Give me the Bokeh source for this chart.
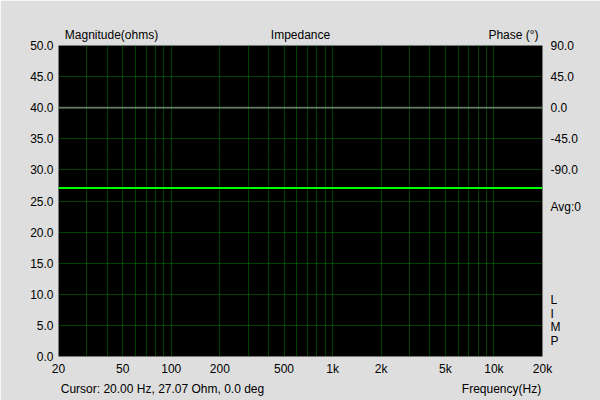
from bokeh.plotting import figure
from bokeh.models import (Range1d, LinearAxis, FixedTicker, LinearScale)
from bokeh.embed import file_html
from bokeh.resources import INLINE

# ---- data ----
freq = [20, 20000]
magnitude = [27.07, 27.07]
phase = [0.0, 0.0]
x_ticks = [20, 50, 100, 200, 500, 1000, 2000, 5000, 10000, 20000]
x_tick_labels = ["20", "50", "100", "200", "500", "1k", "2k", "5k", "10k", "20k"]
x_grid = [30, 40, 50, 60, 70, 80, 90, 100, 200, 300, 400, 500, 600, 700, 800, 900,
          1000, 2000, 3000, 4000, 5000, 6000, 7000, 8000, 9000, 10000]
y_ticks = [0, 5, 10, 15, 20, 25, 30, 35, 40, 45, 50]
phase_ticks = [90, 45, 0, -45, -90]
title_left = "Magnitude(ohms)"
title_center = "Impedance"
title_right = "Phase (°)"
avg_text = "Avg:0"
side_letters = ["L", "I", "M", "P"]
cursor_text = "Cursor: 20.00 Hz, 27.07 Ohm, 0.0 deg"
x_title = "Frequency(Hz)"

FONT = "Liberation Sans"
BG = "#dedede"

FL, FR, FT, FB = 58, 542, 45, 356  # frame edges in pixels
FW = FR - FL

p = figure(width=600, height=400, x_axis_type="log",
           x_range=Range1d(20, 20000), y_range=Range1d(0, 50),
           output_backend="svg", toolbar_location=None,
           background_fill_color="black", border_fill_color=BG,
           min_border_left=FL, min_border_right=600 - FR,
           min_border_top=FT, min_border_bottom=400 - FB)
p.outline_line_color = None

# phase scale: 90 deg at top, 0 deg on the 40 ohm line, 90 deg per 10 ohm
p.extra_y_ranges = {"phase": Range1d(-360, 90)}
# pixel helper range for the text rows around the frame
p.extra_x_ranges = {"px": Range1d(0, FW)}
p.extra_x_scales = {"px": LinearScale()}

xa = p.xaxis[0]
xa.ticker = FixedTicker(ticks=x_ticks)
xa.major_label_overrides = {t: l for t, l in zip(x_ticks, x_tick_labels)}
ya = p.yaxis[0]
ya.ticker = FixedTicker(ticks=y_ticks)
ya.major_label_overrides = {t: f"{t:.1f}" for t in y_ticks}

# right axis: phase ticks plus the side annotations
def ph_at(py):
    return round(90 - (py - FT) * 450 / (FB - FT))

side_ticks = {ph_at(207): avg_text}
for i, ch in enumerate(side_letters):
    side_ticks[ph_at(299 + i * 14)] = ch
ra_overrides = {t: f"{t:.1f}" for t in phase_ticks}
ra_overrides.update(side_ticks)
ra = LinearAxis(y_range_name="phase",
                ticker=FixedTicker(ticks=phase_ticks + list(side_ticks.keys())),
                major_label_overrides=ra_overrides)
p.add_layout(ra, "right")

# top text row
top_pos = {53: title_left, 242: title_center, 455: title_right}
ta = LinearAxis(x_range_name="px", ticker=FixedTicker(ticks=list(top_pos.keys())),
                major_label_overrides=top_pos)
p.add_layout(ta, "above")

# bottom text row
bot_pos = {104: cursor_text, 443: x_title}
ba = LinearAxis(x_range_name="px", ticker=FixedTicker(ticks=list(bot_pos.keys())),
                major_label_overrides=bot_pos)
p.add_layout(ba, "below")

for ax in (xa, ya, ra, ta, ba):
    ax.axis_line_color = None
    ax.major_tick_line_color = None
    ax.minor_tick_line_color = None
    ax.major_tick_out = 0
    ax.major_tick_in = 0
    ax.minor_tick_out = 0
    ax.minor_tick_in = 0
    ax.axis_label_standoff = 0
    ax.major_label_text_font = FONT
    ax.major_label_text_font_size = "12px"
    ax.major_label_text_color = "black"
xa.major_label_standoff = 5
ya.major_label_standoff = 5
ra.major_label_standoff = 8
ta.major_label_standoff = 4
ba.major_label_standoff = 3

# grids
p.xgrid.ticker = FixedTicker(ticks=x_grid)
p.ygrid.ticker = FixedTicker(ticks=y_ticks[1:-1])
for g in (p.xgrid, p.ygrid):
    g.grid_line_color = "#008000"
    g.grid_line_width = 1
    g.grid_line_dash = "1 1"

# series
p.line(freq, phase, y_range_name="phase", line_color="#b8b8b8", line_width=2, line_dash="1 1")
p.line(freq, magnitude, line_color="#00ff00", line_width=2)

open("out.html", "w").write(file_html(p, INLINE))
